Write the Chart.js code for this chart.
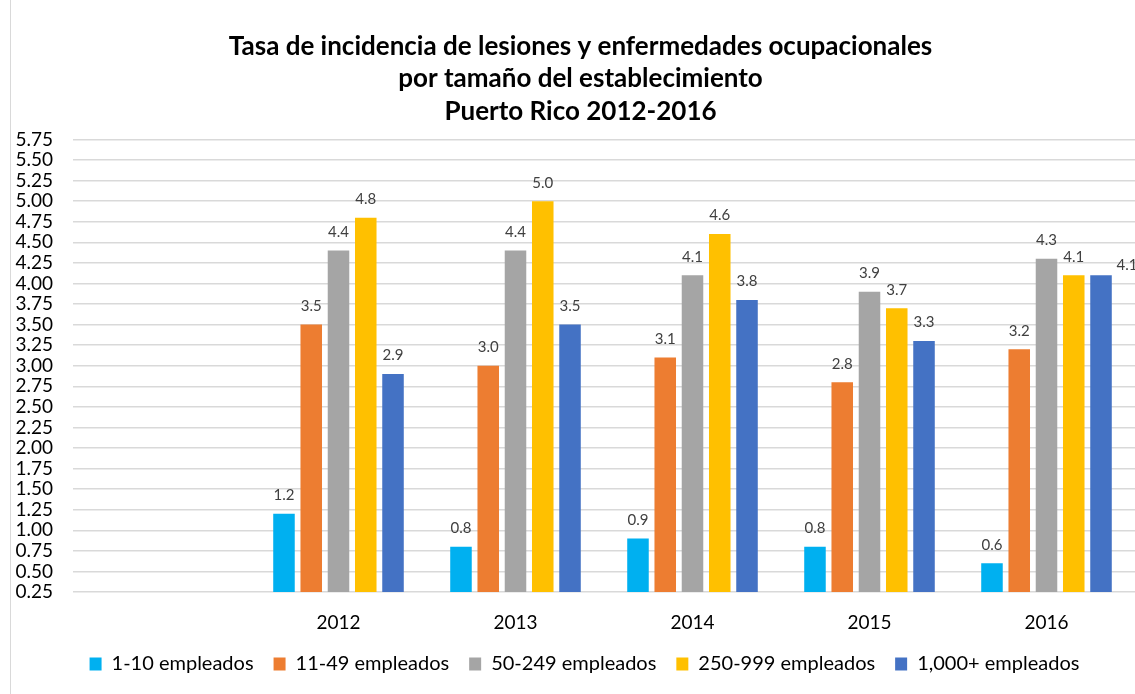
<!DOCTYPE html>
<html>
<head>
<meta charset="utf-8">
<script src="https://cdn.jsdelivr.net/npm/chart.js@4.4.1/dist/chart.umd.min.js"></script>
<style>
  html, body { margin: 0; padding: 0; background: #fff; }
  #wrap { position: relative; width: 1135px; height: 694px; }
</style>
</head>
<body>
<div id="wrap"><canvas id="c"></canvas></div>
<script>
const categories = ['', '2012', '2013', '2014', '2015', '2016'];
const seriesNames = ['1-10 empleados', '11-49 empleados', '50-249 empleados', '250-999 empleados', '1,000+ empleados'];
const s1_10 = [null, 1.2, 0.8, 0.9, 0.8, 0.6];
const s11_49 = [null, 3.5, 3.0, 3.1, 2.8, 3.2];
const s50_249 = [null, 4.4, 4.4, 4.1, 3.9, 4.3];
const s250_999 = [null, 4.8, 5.0, 4.6, 3.7, 4.1];
const s1000 = [null, 2.9, 3.5, 3.8, 3.3, 4.1];
const colors = ['#00B0F0', '#ED7D31', '#A5A5A5', '#FFC000', '#4472C4'];
const titleLines = ['Tasa de incidencia de lesiones y enfermedades ocupacionales', 'por tamaño del establecimiento', 'Puerto Rico 2012-2016'];
const yMin = 0.25, yMax = 5.75, yStep = 0.25;

const seriesData = [s1_10, s11_49, s50_249, s250_999, s1000];

const valueLabels = {
  id: 'valueLabels',
  afterDatasetsDraw(chart) {
    const ctx = chart.ctx;
    ctx.save();
    ctx.font = '15px Lato';
    ctx.fillStyle = '#404040';
    ctx.textAlign = 'center';
    ctx.textBaseline = 'bottom';
    const lastDs = chart.data.datasets.length - 1;
    chart.data.datasets.forEach((ds, i) => {
      const meta = chart.getDatasetMeta(i);
      meta.data.forEach((el, j) => {
        const v = ds.data[j];
        if (v === null || v === undefined) return;
        let dx = 0, dy = 0;
        // the last label in the reference is nudged right of its bar
        if (i === lastDs && j === meta.data.length - 1) { dx = 26; dy = 8; }
        ctx.fillText(v.toFixed(1), el.x + dx, el.y - 11 + dy);
      });
    });
    ctx.restore();
  }
};

const frame = {
  id: 'frame',
  afterLayout(chart) {
    if (chart.legend) { chart.legend.left += 10; chart.legend.right += 10; }
    if (chart.titleBlock) { chart.titleBlock.left += 6; chart.titleBlock.right += 6; }
  },
  beforeDraw(chart) {
    const ctx = chart.ctx;
    ctx.save();
    ctx.strokeStyle = '#D9D9D9';
    ctx.lineWidth = 1;
    ctx.beginPath();
    ctx.moveTo(10.5, 0);
    ctx.lineTo(10.5, chart.height);
    ctx.stroke();
    ctx.restore();
  }
};

new Chart(document.getElementById('c'), {
  type: 'bar',
  data: {
    labels: categories,
    datasets: seriesData.map((d, i) => ({
      label: seriesNames[i],
      data: d,
      backgroundColor: colors[i],
      borderWidth: 0,
      categoryPercentage: 0.77,
      barPercentage: 0.79
    }))
  },
  options: {
    responsive: true,
    maintainAspectRatio: false,
    animation: false,
    layout: { padding: { left: 14, right: 0, top: 0, bottom: 10 } },
    plugins: {
      title: {
        display: true,
        text: titleLines,
        color: '#000',
        font: { family: 'Lato', size: 26, weight: 'bold', lineHeight: 1.25 },
        padding: { top: 30, bottom: 12 }
      },
      legend: {
        position: 'bottom',
        labels: {
          color: '#000',
          font: { family: 'Lato', size: 20 },
          boxWidth: 12,
          boxHeight: 13,
          padding: 20
        }
      },
      tooltip: { enabled: false }
    },
    scales: {
      x: {
        grid: { display: false, drawTicks: false },
        border: { display: false },
        ticks: { color: '#000', font: { family: 'Lato', size: 19 }, padding: 19 },
        afterFit(scale) { scale.height = 42; }
      },
      y: {
        min: yMin,
        max: yMax,
        grid: { color: '#D9D9D9', lineWidth: 1.5, drawTicks: false },
        border: { display: false },
        ticks: {
          stepSize: yStep,
          autoSkip: false,
          color: '#000',
          font: { family: 'Lato', size: 19 },
          padding: 20,
          callback: v => Number(v).toFixed(2)
        },
        afterFit(scale) { scale.width = 59; }
      }
    }
  },
  plugins: [valueLabels, frame]
});
</script>
</body>
</html>
